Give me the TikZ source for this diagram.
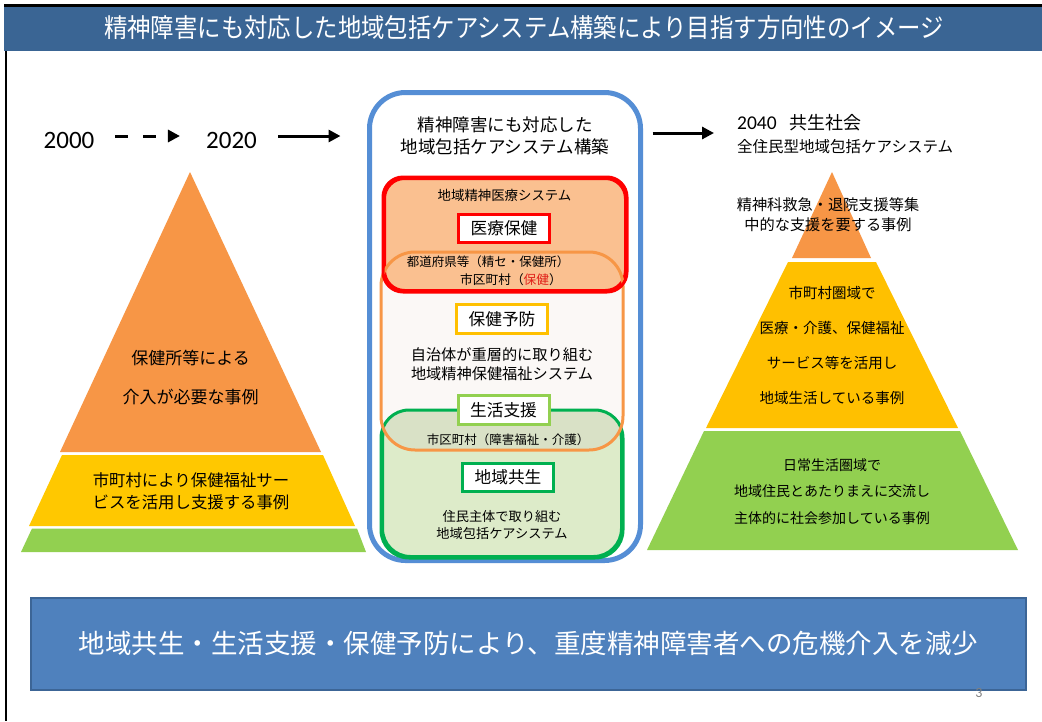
\documentclass[tikz,border=0pt]{standalone}
\usepackage{graphicx}
\usepackage{fontspec}
\setmainfont{Noto Sans CJK JP}
\newfontfamily\calfont{Carlito}
\usetikzlibrary{arrows.meta,calc}
\definecolor{titlebar}{HTML}{3A6594}
\definecolor{bottomfill}{HTML}{4F81BD}
\definecolor{bottomedge}{HTML}{3C6596}
\definecolor{pyorange}{HTML}{F79646}
\definecolor{pyyellow}{HTML}{FFC000}
\definecolor{pyyellowL}{HTML}{FFC800}
\definecolor{pygreen}{HTML}{92D050}
\definecolor{bigblue}{HTML}{558ED5}
\definecolor{redfill}{HTML}{FAC090}
\definecolor{orangefill}{HTML}{FBF8F6}
\definecolor{greenfill}{HTML}{DDEBC9}
\definecolor{overlapfill}{HTML}{D9E1C6}
\definecolor{darkgreen}{HTML}{00B050}
\definecolor{redtext}{HTML}{E0201A}
\newcommand\fsz[2]{\fontsize{#1}{#2}\selectfont}
\tikzset{
  txt/.style={inner sep=0pt, align=center, text=black},
  lblbox/.style={draw, fill=white, line width=3pt, inner sep=0pt, minimum width=91pt, minimum height=28.5pt, font=\fsz{16.7}{20}},
  arr/.style={line width=3pt, -{Triangle[length=12pt,width=12pt]}},
  region/.style={line width=3pt, inner sep=0pt},
}
\begin{document}
\begin{tikzpicture}[x=1pt,y=-1pt]
\useasboundingbox (0,0) rectangle (1042,721);
\fill[white] (0,0) rectangle (1042,721);
% frame and title bar
\fill[black] (4,4) rectangle (1042,7);
\fill[titlebar] (4,7) rectangle (1042,50.5);
\fill[black] (4.6,50.5) rectangle (7.3,721);
\node (title) at (524,28) [inner sep=0pt, text=white, font=\fsz{26}{30}] {\scalebox{0.9}[1]{精神障害にも対応した地域包括ケアシステム構築により目指す方向性のイメージ}};

% timeline
\coordinate (arrowrow) at (0,136);
\node (y2000) at (69,140) [txt, font=\calfont\fsz{25}{30}] {2000};
\node (y2020) at (231.5,140) [txt, font=\calfont\fsz{25}{30}] {2020};

% left pyramid
\fill[pyorange] (190,172) -- (321,452) -- (60,452) -- cycle;
\fill[pyyellowL] (62,455) -- (323,455) -- (355,526) -- (29,526) -- cycle;
\fill[pygreen] (32,528.5) -- (357,528.5) -- (366,552) -- (21,552) -- cycle;
\node (lo) at (190.5,377.5) [txt, font=\fsz{17}{39}] {保健所等による\\介入が必要な事例};
\node (ly) at (191,491) [txt, font=\fsz{16.4}{22}] {市町村により保健福祉サー\\ビスを活用し支援する事例};

% central box
\node (big) at (505,326.5) [draw=bigblue, fill=white, line width=5pt, rounded corners=36pt, minimum width=271pt, minimum height=468pt, inner sep=0pt] {};
\node (ctitle) at (505,136) [txt, font=\fsz{17.5}{22}] {精神障害にも対応した\\地域包括ケアシステム構築};

\node (orng) at (502,351) [region, fill=orangefill, rounded corners=34pt, minimum width=239pt, minimum height=195pt] {};
\node (redb) at (505,234.5) [region, draw=red, fill=redfill, rounded corners=20pt, minimum width=241pt, minimum height=112pt] {};
\node (grn) at (502,484) [region, draw=darkgreen, fill=greenfill, rounded corners=28pt, minimum width=239pt, minimum height=145pt] {};
\begin{scope}
  \clip[rounded corners=34pt] (orng.south west) rectangle (orng.north east);
  \fill[overlapfill, rounded corners=28pt] (grn.south west) rectangle (grn.north east);
\end{scope}
\draw[line width=3pt, draw=darkgreen, rounded corners=28pt] (grn.south west) rectangle (grn.north east);
\draw[line width=3pt, draw=pyorange, rounded corners=34pt] (orng.south west) rectangle (orng.north east);
\draw[line width=3pt, draw=red, rounded corners=20pt] (redb.south west) rectangle (redb.north east);

\node (sys1) at (504.5,195) [txt, font=\fsz{13.4}{16}] {地域精神医療システム};
\node (iryo) at (504,228.5) [lblbox, draw=red] {医療保健};
\node (pref) at (488,262) [txt, font=\fsz{12.5}{15}] {都道府県等（精セ・保健所）};
\node (muni1) at (511,280) [txt, font=\fsz{12.7}{15}] {市区町村（\textcolor{redtext}{保健}）};
\node (yobo) at (502,319) [lblbox, draw=pyyellow] {保健予防};
\node (jichi) at (502,364) [txt, font=\fsz{15.2}{19}] {自治体が重層的に取り組む\\地域精神保健福祉システム};
\node (seikatsu) at (503.5,410) [lblbox, draw=pygreen] {生活支援};
\node (muni2) at (508,440) [txt, font=\fsz{12.5}{15}] {市区町村（障害福祉・介護）};
\node (kyosei) at (508,477.5) [lblbox, draw=darkgreen] {地域共生};
\node (jumin) at (502,525) [txt, font=\fsz{13.2}{16.5}] {住民主体で取り組む\\地域包括ケアシステム};

% right side
\node (n2040) at (737,123) [anchor=west, inner sep=0pt, font=\fsz{18}{22}] {{\calfont\fsz{19.5}{22}2040}\hspace{13pt}共生社会};
\node (n2040b) at (737,147) [anchor=west, inner sep=0pt, font=\fsz{15.5}{19}] {全住民型地域包括ケアシステム};

\fill[pyorange] (832,172) -- (871,258) -- (792,258) -- cycle;
\fill[pyyellow] (788,262) -- (876,262) -- (958,428) -- (706,428) -- cycle;
\fill[pygreen] (704,431) -- (960,431) -- (1018,550) -- (647,550) -- cycle;
\node (ro) at (828,215) [txt, font=\fsz{15.2}{20}] {精神科救急・退院支援等集\\中的な支援を要する事例};
\node (ry) at (832,345.5) [txt, font=\fsz{14.5}{35}] {市町村圏域で\\医療・介護、保健福祉\\サービス等を活用し\\地域生活している事例};
\node (rg) at (832,491.5) [txt, font=\fsz{14}{26.5}] {日常生活圏域で\\地域住民とあたりまえに交流し\\主体的に社会参加している事例};

% arrows
\draw[arr, dash pattern=on 13pt off 15pt, shorten <=20.5pt, shorten >=26pt] (y2000.east |- arrowrow) -- (y2020.west |- arrowrow);
\draw[arr, shorten <=21pt, shorten >=26.5pt] (y2020.east |- arrowrow) -- (big.west |- arrowrow);
\coordinate (arrowrow2) at (0,133);
\draw[arr, shorten <=9.5pt, shorten >=23pt] (big.east |- arrowrow2) -- (n2040.west |- arrowrow2);

% bottom banner
\node (banner) at (528.5,643.5) [draw=bottomedge, line width=2pt, fill=bottomfill, minimum width=995pt, minimum height=92pt, inner sep=0pt, text=white, font=\fsz{26.5}{30}] {地域共生・生活支援・保健予防により、重度精神障害者への危機介入を減少};
\node (pnum) at (979,692.5) [inner sep=0pt, text=gray, font=\calfont\fsz{14}{16}] {3};
\end{tikzpicture}
\end{document}
